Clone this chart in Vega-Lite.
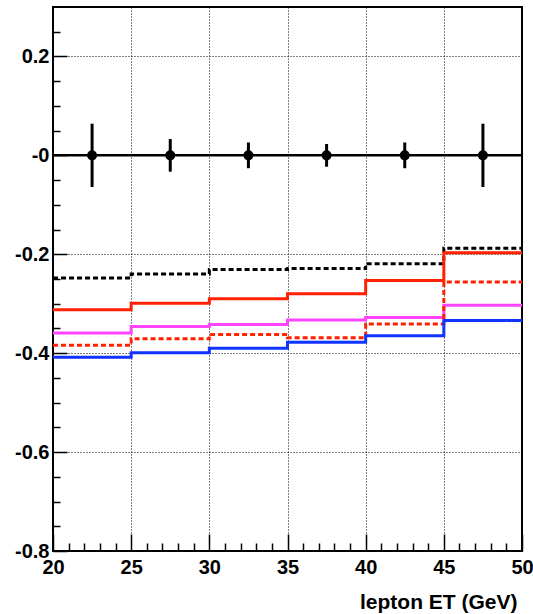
{
  "$schema": "https://vega.github.io/schema/vega-lite/v6.json",
  "width": 469,
  "height": 544,
  "autosize": {"type": "none"},
  "padding": {"left": 53, "top": 7, "right": 11, "bottom": 63},
  "background": "white",
  "config": {
    "view": {"stroke": "black", "strokeWidth": 2},
    "axis": {
      "labelFont": "Liberation Sans", "labelFontWeight": "bold", "labelFontSize": 20, "labelColor": "black",
      "titleFont": "Liberation Sans", "titleFontWeight": "bold", "titleFontSize": 21, "titleColor": "black",
      "domain": false, "tickColor": "black", "tickWidth": 1.5,
      "gridColor": "black", "gridDash": [1, 2], "gridOpacity": 1, "gridWidth": 1,
      "labelFlush": false, "labelOverlap": false
    }
  },
  "datasets": {
    "steps": [
      {"s": "A", "x": 20, "y": -0.248}, {"s": "A", "x": 25, "y": -0.240}, {"s": "A", "x": 30, "y": -0.231},
      {"s": "A", "x": 35, "y": -0.229}, {"s": "A", "x": 40, "y": -0.219}, {"s": "A", "x": 45, "y": -0.188}, {"s": "A", "x": 50, "y": -0.188},
      {"s": "B", "x": 20, "y": -0.312}, {"s": "B", "x": 25, "y": -0.299}, {"s": "B", "x": 30, "y": -0.290},
      {"s": "B", "x": 35, "y": -0.280}, {"s": "B", "x": 40, "y": -0.253}, {"s": "B", "x": 45, "y": -0.197}, {"s": "B", "x": 50, "y": -0.197},
      {"s": "C", "x": 20, "y": -0.359}, {"s": "C", "x": 25, "y": -0.346}, {"s": "C", "x": 30, "y": -0.342},
      {"s": "C", "x": 35, "y": -0.333}, {"s": "C", "x": 40, "y": -0.328}, {"s": "C", "x": 45, "y": -0.303}, {"s": "C", "x": 50, "y": -0.303},
      {"s": "D", "x": 20, "y": -0.384}, {"s": "D", "x": 25, "y": -0.371}, {"s": "D", "x": 30, "y": -0.362},
      {"s": "D", "x": 35, "y": -0.369}, {"s": "D", "x": 40, "y": -0.341}, {"s": "D", "x": 45, "y": -0.256}, {"s": "D", "x": 50, "y": -0.256},
      {"s": "E", "x": 20, "y": -0.408}, {"s": "E", "x": 25, "y": -0.399}, {"s": "E", "x": 30, "y": -0.390},
      {"s": "E", "x": 35, "y": -0.378}, {"s": "E", "x": 40, "y": -0.365}, {"s": "E", "x": 45, "y": -0.334}, {"s": "E", "x": 50, "y": -0.334}
    ],
    "points": [
      {"x": 22.5, "y": 0, "lo": -0.064, "hi": 0.064},
      {"x": 27.5, "y": 0, "lo": -0.033, "hi": 0.033},
      {"x": 32.5, "y": 0, "lo": -0.026, "hi": 0.026},
      {"x": 37.5, "y": 0, "lo": -0.023, "hi": 0.023},
      {"x": 42.5, "y": 0, "lo": -0.026, "hi": 0.026},
      {"x": 47.5, "y": 0, "lo": -0.064, "hi": 0.064}
    ],
    "zero": [{"y": 0}]
  },
  "resolve": {"axis": {"x": "independent", "y": "independent"}},
  "layer": [
    {
      "data": {"name": "steps"},
      "mark": {"type": "line", "interpolate": "step-after", "strokeWidth": 3},
      "encoding": {
        "x": {
          "field": "x", "type": "quantitative",
          "scale": {"domain": [20, 50], "nice": false, "zero": false},
          "axis": {
            "orient": "bottom", "values": [20, 25, 30, 35, 40, 45, 50], "tickSize": -17,
            "labelPadding": 39, "labelBaseline": "alphabetic", "grid": true,
            "title": "lepton ET (GeV)", "titleAnchor": "end", "titleAlign": "right",
            "titleBaseline": "alphabetic", "titleX": 464, "titleY": 57
          }
        },
        "y": {
          "field": "y", "type": "quantitative",
          "scale": {"domain": [-0.8, 0.3], "nice": false, "zero": false},
          "axis": {
            "orient": "left", "values": [-0.8, -0.6, -0.4, -0.2, 0, 0.2], "tickSize": -14,
            "labelPadding": 18, "labelAlign": "right", "labelBaseline": "middle", "grid": true, "title": null,
            "labelExpr": "datum.value == 0 ? '-0' : (datum.value < 0 ? '-' + format(-datum.value, '.1f') : format(datum.value, '.1f'))"
          }
        },
        "detail": {"field": "s"},
        "color": {
          "field": "s", "type": "nominal", "legend": null,
          "scale": {"domain": ["A", "B", "C", "D", "E"], "range": ["#000000", "#ff2200", "#ff44ff", "#ff2200", "#1133ff"]}
        },
        "strokeDash": {
          "field": "s", "type": "nominal", "legend": null,
          "scale": {"domain": ["A", "B", "C", "D", "E"], "range": [[5, 3], [1, 0], [1, 0], [5, 3], [1, 0]]}
        }
      }
    },
    {
      "data": {"name": "zero"},
      "mark": {"type": "rule", "color": "black", "strokeWidth": 2.5},
      "encoding": {
        "y": {"field": "y", "type": "quantitative", "axis": null}
      }
    },
    {
      "data": {"name": "points"},
      "mark": {"type": "rule", "color": "black", "strokeWidth": 3},
      "encoding": {
        "x": {
          "field": "x", "type": "quantitative",
          "axis": {
            "orient": "bottom", "values": [21, 22, 23, 24, 26, 27, 28, 29, 31, 32, 33, 34, 36, 37, 38, 39, 41, 42, 43, 44, 46, 47, 48, 49],
            "tickSize": -8, "labels": false, "grid": false, "title": null
          }
        },
        "y": {
          "field": "lo", "type": "quantitative",
          "axis": {
            "orient": "left", "values": [-0.75, -0.7, -0.65, -0.55, -0.5, -0.45, -0.35, -0.3, -0.25, -0.15, -0.1, -0.05, 0.05, 0.1, 0.15, 0.25],
            "tickSize": -7, "labels": false, "grid": false, "title": null
          }
        },
        "y2": {"field": "hi"}
      }
    },
    {
      "data": {"name": "points"},
      "mark": {"type": "circle", "color": "black", "opacity": 1, "size": 100},
      "encoding": {
        "x": {"field": "x", "type": "quantitative", "axis": null},
        "y": {"field": "y", "type": "quantitative", "axis": null}
      }
    }
  ]
}
